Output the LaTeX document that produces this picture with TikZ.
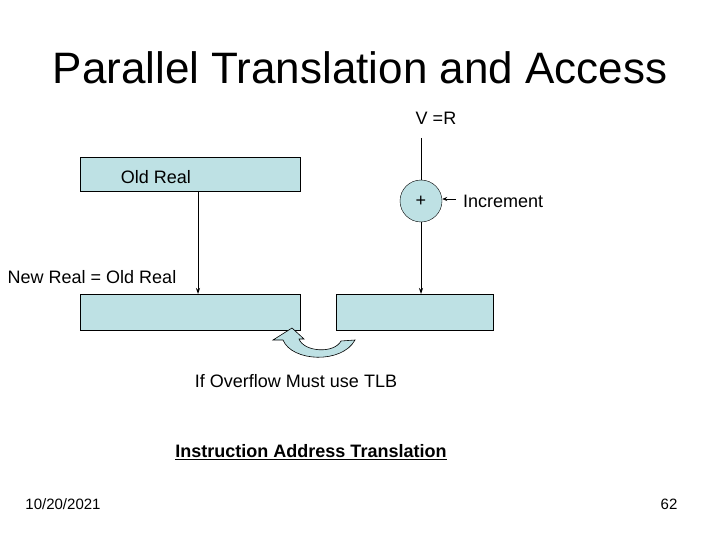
\documentclass[tikz,border=0pt]{standalone}
\usepackage{fontspec}
\setmainfont{Liberation Sans}
\usetikzlibrary{arrows.meta}
\definecolor{lb}{RGB}{190,225,228}
\begin{document}
\begin{tikzpicture}[x=1pt,y=-1pt,
  box/.style={draw,fill=lb,line width=0.6pt},
  lbl/.style={inner sep=0pt,font=\fontsize{18}{21}\selectfont},
  arr/.style={-{Stealth[length=6pt,width=4pt]},line width=0.8pt}]
\useasboundingbox (0,0) rectangle (720,540);
\node[inner sep=0pt,font=\fontsize{44}{50}\selectfont] (title) at (360,68) {Parallel Translation and Access};
\node[lbl] (vr) at (436,118) {V =R};
\draw[box] (80,157) rectangle (300,191);
\coordinate (oldtop) at (198,191);
\node[lbl] (old) at (156,177) {Old Real};
\node[draw,fill=lb,circle,minimum size=42pt,inner sep=0pt] (plus) at (421,201) {\fontsize{18}{21}\selectfont +};
\coordinate (vtop) at (421,138);
\draw[line width=0.6pt] (vtop) -- (plus.north);
\draw[box] (80,294) rectangle (300,330);
\draw[box] (336,294) rectangle (493,330);
\coordinate (b1) at (198,294);
\coordinate (b2) at (421,294);
\draw[arr] (oldtop) -- (b1);
\draw[arr] (plus.south) -- (b2);
\coordinate (incs) at (456,199);
\draw[-{Stealth[length=5pt,width=4pt]},line width=0.6pt] (incs) -- (plus.east |- incs);
\node[lbl,anchor=west] (inc) at (463,201) {Increment};
\node[lbl] (nr) at (92,277) {New Real = Old Real};
\draw[fill=lb,line width=0.6pt] (292,328) -- (273,340) -- (283,340)
  .. controls (292,362) and (342,364) .. (355,340) -- (341,341)
  .. controls (334,354) and (304,352) .. (299,339) -- (304,339) -- cycle;
\node[lbl] (ov) at (296,381) {If Overflow Must use TLB};
\node[lbl,font=\fontsize{18}{21}\selectfont\bfseries] (iat) at (311,452) {\underline{Instruction Address Translation}};
\node[inner sep=0pt,font=\fontsize{15}{18}\selectfont] (date) at (63,504) {10/20/2021};
\node[inner sep=0pt,font=\fontsize{15}{18}\selectfont] (pg) at (669,504) {62};
\end{tikzpicture}
\end{document}
